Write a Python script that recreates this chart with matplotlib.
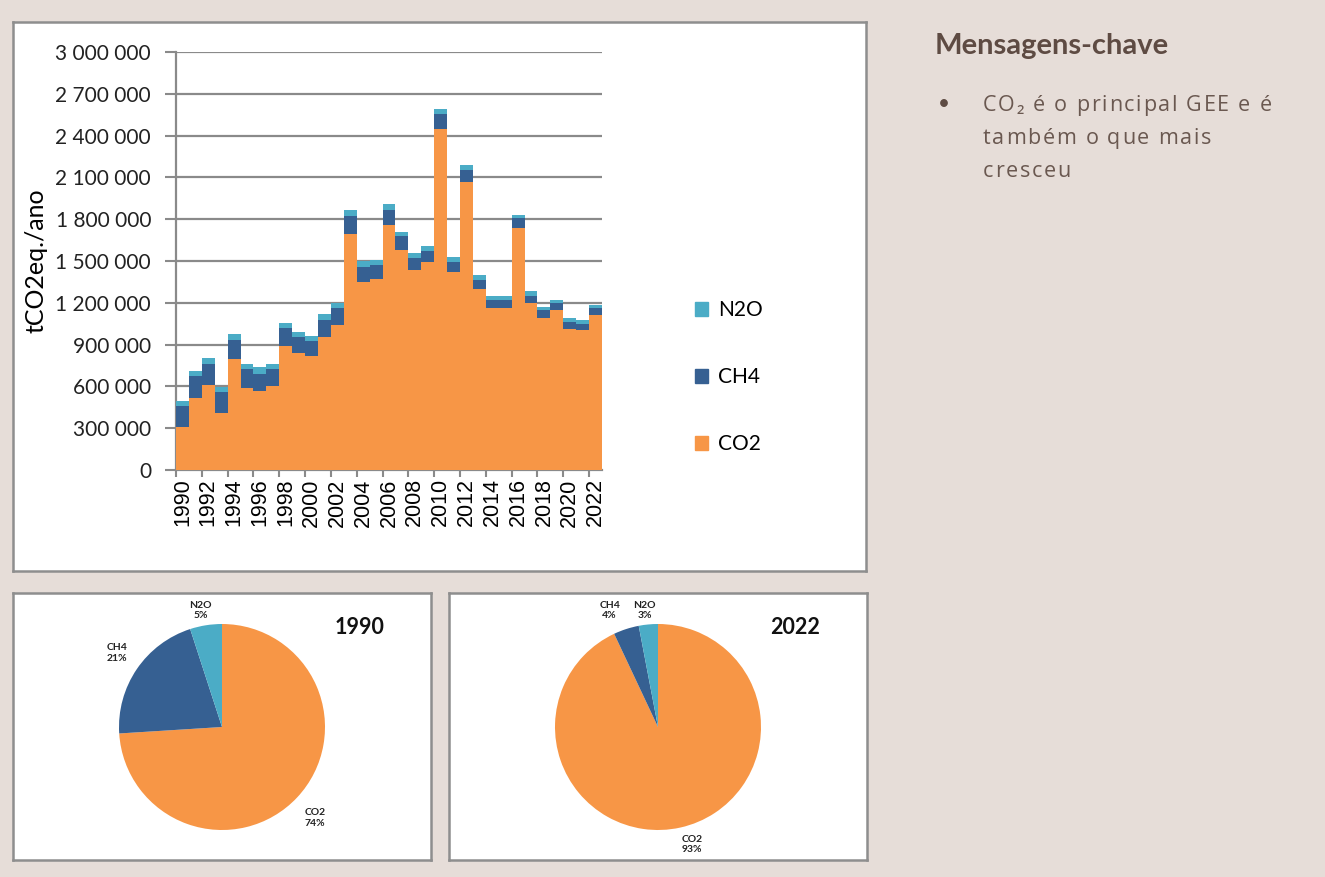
import matplotlib
matplotlib.use('Agg')
import matplotlib.pyplot as plt
import numpy as np
from matplotlib.patches import Patch

## -- data (t CO2eq./ano)
years = list(range(1990, 2023))
co2 = [311, 515, 611, 412, 795, 587, 570, 604, 891, 839, 815, 958, 1040, 1694,
       1349, 1373, 1756, 1581, 1433, 1493, 2444, 1423, 2070, 1299, 1160, 1160,
       1737, 1196, 1090, 1145, 1013, 1006, 1109]
ch4 = [149, 161, 151, 151, 139, 139, 120, 122, 130, 119, 112, 115, 120, 132,
       108, 101, 113, 96, 88, 76, 108, 70, 86, 64, 62, 62,
       70, 52, 55, 53, 51, 41, 51]
n2o = [36, 31, 41, 36, 44, 34, 46, 34, 33, 36, 36, 46, 38, 43,
       41, 36, 43, 34, 36, 41, 40, 36, 34, 34, 29, 29,
       26, 36, 24, 24, 26, 31, 26]
gases = ['CO2', 'CH4', 'N2O']
pie_1990 = [74, 21, 5]
pie_2022 = [93, 4, 3]

## -- styles
W, H = 1325, 877
BG = '#E6DDD8'
C_CO2, C_CH4, C_N2O = '#F79646', '#366092', '#4BACC6'
GRID = '#8A8A8A'
BROWN = '#5E4B43'
plt.rcParams['font.family'] = ['Lato', 'DejaVu Sans']

def fx(x): return x / W
def fy(y): return 1 - y / H

fig = plt.figure(figsize=(W / 100, H / 100), dpi=100)
fig.patch.set_facecolor(BG)

def panel(x0, y0, x1, y1):
    ax = fig.add_axes([fx(x0), fy(y1), fx(x1 - x0), (y1 - y0) / H])
    ax.set_facecolor('white')
    ax.set_xticks([]); ax.set_yticks([])
    for s in ax.spines.values():
        s.set_color('#8E8E8E'); s.set_linewidth(1.8)
    return ax

panel(13, 22, 866, 571)
panel(13, 593, 431, 860)
panel(449, 593, 867, 860)

## -- main stacked chart
ax = fig.add_axes([fx(176), fy(470), fx(602 - 176), (470 - 52) / H])
ax.set_facecolor('none')
x = np.arange(len(years))
c = np.array(co2) * 1000
m = np.array(ch4) * 1000
n = np.array(n2o) * 1000
ax.bar(x, c, width=1.0, color=C_CO2, lw=0, zorder=3)
ax.bar(x, m, width=1.0, bottom=c, color=C_CH4, lw=0, zorder=3)
ax.bar(x, n, width=1.0, bottom=c + m, color=C_N2O, lw=0, zorder=3)
ax.set_xlim(-0.5, len(years) - 0.5)
ax.set_ylim(0, 3000000)
yt = np.arange(0, 3000001, 300000)
ax.set_yticks(yt)
ax.set_yticklabels(['{:,}'.format(v).replace(',', ' ') for v in yt], fontsize=15, color='#222222')
ax.yaxis.grid(True, color=GRID, lw=1.6, zorder=0)
ax.set_xticks(x[::2])
ax.set_xticklabels([str(yv) for yv in years[::2]], rotation=90, fontsize=15.5,
                   family=['Liberation Sans', 'DejaVu Sans'])
ax.set_xticks(np.arange(-0.5, len(years), 2), minor=True)
ax.tick_params(axis='x', which='major', length=0, pad=6)
ax.tick_params(axis='x', which='minor', length=5, width=1.5, color=GRID)
ax.tick_params(axis='y', length=8, width=1.5, color=GRID, pad=10)
for s in ['top', 'right']:
    ax.spines[s].set_visible(False)
for s in ['left', 'bottom']:
    ax.spines[s].set_color(GRID); ax.spines[s].set_linewidth(1.6)
ax.set_ylabel('tCO2eq./ano', fontsize=18, labelpad=6)

handles = [Patch(color=C_N2O, label='N2O'), Patch(color=C_CH4, label='CH4'),
           Patch(color=C_CO2, label='CO2')]
fig.legend(handles=handles, loc='center left', bbox_to_anchor=(fx(676), fy(377)),
           frameon=False, fontsize=15, labelspacing=2.25, handlelength=0.65,
           handleheight=0.65, handletextpad=0.45)

## -- pies
def draw_pie(cx, cy, vals, title, lab_pos, title_pos):
    r = 103
    pa = fig.add_axes([fx(cx - r), fy(cy + r), fx(2 * r), 2 * r / H])
    pa.pie(vals, colors=[C_CO2, C_CH4, C_N2O], startangle=90, counterclock=False,
           radius=1.0, wedgeprops=dict(linewidth=0))
    pa.set_xlim(-1, 1); pa.set_ylim(-1, 1)
    pa.set_aspect('equal'); pa.axis('off')
    for g, v, (lx, ly) in zip(gases, vals, lab_pos):
        pa.text(lx, ly, '%s\n%d%%' % (g, v), ha='center', va='center', fontsize=7.5,
                fontweight='bold', color='#222222', linespacing=1.25)
    pa.text(title_pos[0], title_pos[1], title, ha='center', va='center', fontsize=15.5,
            fontweight='bold', color='#111111')

draw_pie(222, 727, pie_1990, '1990',
         [(0.90, -0.88), (-1.02, 0.72), (-0.21, 1.13)], (1.34, 0.97))
draw_pie(658, 727, pie_2022, '2022',
         [(0.33, -1.14), (-0.47, 1.13), (-0.13, 1.13)], (1.33, 0.97))

## -- key messages
fig.text(fx(935), fy(46), 'Mensagens-chave', fontsize=21, fontweight='bold',
         color=BROWN, va='center', ha='left')
fig.text(fx(938), fy(104), '\u2022', fontsize=15, color=BROWN, va='center', ha='left')

## spaced-out letters, placed one by one
rend = fig.canvas.get_renderer()
body_kw = dict(fontsize=15.5, color='#6A5850', va='baseline', ha='left',
               family=['Open Sans', 'DejaVu Sans'])
def char_w(ch):
    a = fig.text(0, 0, 'x' + ch + 'x', **body_kw)
    b = fig.text(0, 0, 'xx', **body_kw)
    w = a.get_window_extent(rend).width - b.get_window_extent(rend).width
    a.remove(); b.remove()
    return w
body = ['CO\u2082 é o principal GEE e é', 'também o que mais', 'cresceu']
track = 1.7
for i, line in enumerate(body):
    px = 983
    for ch in line:
        fig.text(fx(px), fy(111 + 33 * i), ch, **body_kw)
        px += char_w(ch) + track

fig.savefig('out.png', dpi=100, facecolor=BG)
